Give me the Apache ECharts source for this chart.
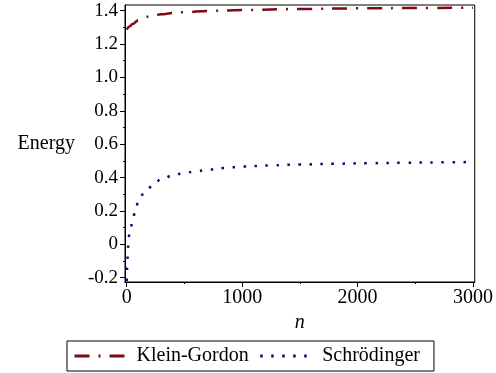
<!DOCTYPE html>
<html>
<head>
<meta charset="utf-8">
<script src="https://cdn.jsdelivr.net/npm/echarts@6/dist/echarts.min.js"></script>
<style>
  html, body { margin: 0; padding: 0; background: #fff; }
  #chart { width: 496px; height: 373px; }
</style>
</head>
<body>
<div id="chart"></div>
<script>
// values
const kgN = [0, 25, 50, 100, 150, 200, 300, 400, 500, 700, 1000, 1500, 2000, 2500, 3000]
const kgEnergy = [1.287, 1.305, 1.32, 1.343, 1.358, 1.367, 1.378, 1.386, 1.391, 1.398, 1.404, 1.41, 1.414, 1.416, 1.418]

const schN = [0, 4, 8, 14, 22, 35, 50, 75, 100, 140, 180, 230, 300, 400, 500, 600, 700, 850, 1000, 1250, 1500, 1800, 2100, 2400, 2700, 3000]
const schEnergy = [-0.22, -0.14, -0.07, 0.0, 0.06, 0.1, 0.14, 0.205, 0.255, 0.3, 0.33, 0.36, 0.39, 0.413, 0.428, 0.437, 0.447, 0.457, 0.466, 0.473, 0.478, 0.483, 0.486, 0.489, 0.491, 0.493]

const xTicks = [0, 1000, 2000, 3000]
const xMinorTicks = [500, 1500, 2500]
const yTicks = [-0.2, 0, 0.2, 0.4, 0.6, 0.8, 1.0, 1.2, 1.4]
const yTickLabels = ['-0.2', '0', '0.2', '0.4', '0.6', '0.8', '1.0', '1.2', '1.4']
const yMinorTicks = [-0.1, 0.1, 0.3, 0.5, 0.7, 0.9, 1.1, 1.3]

const serif = '"Liberation Serif", "DejaVu Serif", serif'
const zip = (xs, ys) => xs.map((x, i) => [x, ys[i]])

function yLabel(v) {
  const i = yTicks.findIndex(t => Math.abs(t - v) < 1e-6)
  return i >= 0 ? yTickLabels[i] : ''
}

const chart = echarts.init(document.getElementById('chart'))

const xRange = { min: -15, max: 3015 }
const yRange = { min: -0.226, max: 1.434 }

chart.setOption({
  animation: false,
  grid: { left: 125, right: 19, top: 5, bottom: 91, show: true, borderColor: '#000', borderWidth: 1 },
  xAxis: [
    {
      type: 'value', ...xRange, position: 'bottom',
      axisLine: { show: true, onZero: false, lineStyle: { color: '#000', width: 1 } },
      axisTick: { show: true, customValues: xTicks, length: 5, lineStyle: { color: '#000' } },
      axisLabel: { customValues: xTicks, formatter: v => String(v), margin: 6, color: '#000', fontFamily: serif, fontSize: 20 },
      splitLine: { show: false },
      name: 'n', nameLocation: 'middle', nameGap: 28,
      nameTextStyle: { color: '#000', fontFamily: serif, fontSize: 20, fontStyle: 'italic' },
    },
    {
      type: 'value', ...xRange, position: 'bottom',
      axisLine: { show: false, onZero: false },
      axisTick: { show: true, customValues: xMinorTicks, length: 2, lineStyle: { color: '#000' } },
      axisLabel: { show: false },
      splitLine: { show: false },
    },
  ],
  yAxis: [
    {
      type: 'value', ...yRange, position: 'left',
      axisLine: { show: true, onZero: false, lineStyle: { color: '#000', width: 1 } },
      axisTick: { show: true, customValues: yTicks, length: 5, lineStyle: { color: '#000' } },
      axisLabel: { customValues: yTicks, formatter: yLabel, margin: 7, color: '#000', fontFamily: serif, fontSize: 19 },
      splitLine: { show: false },
      name: 'Energy', nameLocation: 'middle', nameRotate: 0, nameGap: 50,
      nameTextStyle: { color: '#000', fontFamily: serif, fontSize: 20 },
    },
    {
      type: 'value', ...yRange, position: 'left',
      axisLine: { show: false, onZero: false },
      axisTick: { show: true, customValues: yMinorTicks, length: 2, lineStyle: { color: '#000' } },
      axisLabel: { show: false },
      splitLine: { show: false },
    },
  ],
  legend: {
    left: 67, top: 341,
    padding: [5, 14, 5, 6],
    borderColor: '#000', borderWidth: 1,
    itemWidth: 50, itemHeight: 14, itemGap: 10,
    lineStyle: { width: 3 },
    // line series always add a marker to the icon; hide it
    itemStyle: { opacity: 0, borderWidth: 0 },
    textStyle: { color: '#000', fontFamily: serif, fontSize: 20, padding: [0, 0, 0, 7] },
    data: ['Klein-Gordon', 'Schrödinger'],
  },
  series: [
    {
      name: 'Klein-Gordon', type: 'line', symbol: 'none',
      smooth: 0.4, smoothMonotone: 'x',
      data: zip(kgN, kgEnergy),
      lineStyle: { color: '#7f0a14', width: 2.5, type: [15, 9, 2, 9] },
      itemStyle: { color: '#7f0a14' },
    },
    {
      name: 'Schrödinger', type: 'line', symbol: 'none',
      smooth: 0.4, smoothMonotone: 'x',
      data: zip(schN, schEnergy),
      lineStyle: { color: '#0a0a80', width: 2.5, type: [2.5, 8.5] },
      itemStyle: { color: '#0a0a80' },
    },
  ],
})
</script>
</body>
</html>
